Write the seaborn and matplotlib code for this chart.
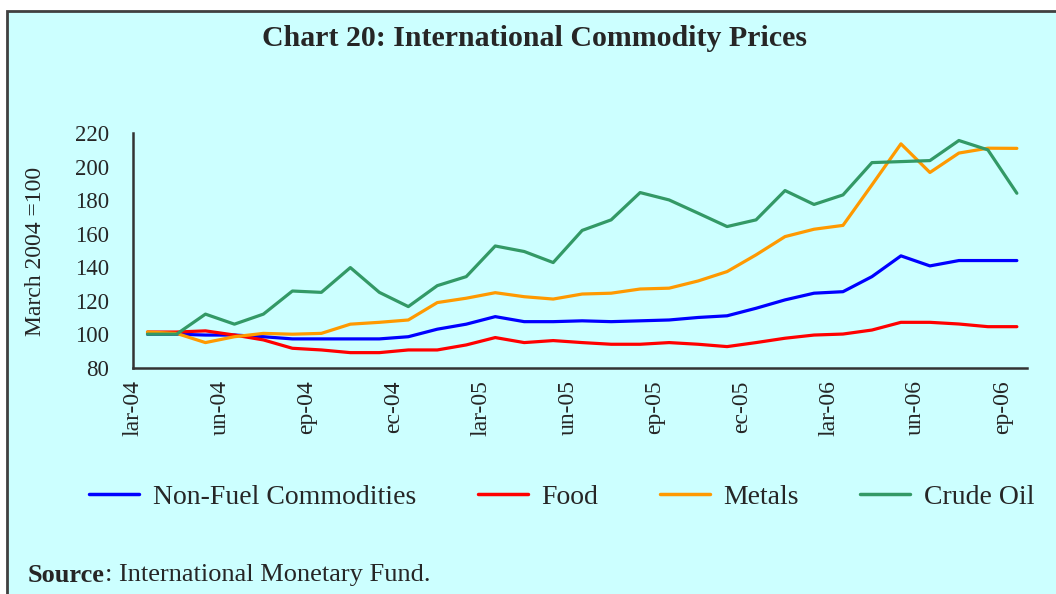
import pandas as pd
import seaborn as sns
import matplotlib.pyplot as plt
from matplotlib.patches import Rectangle

# monthly index values, March 2004 = 100 (Mar-04 .. Sep-06)
months = pd.date_range("2004-03-01", "2006-09-01", freq="MS")
non_fuel = [100, 100, 99.5, 99.5, 98.5, 97.2, 97.2, 97.2, 97.2, 98.5, 103, 106,
            110.5, 107.5, 107.5, 108, 107.5, 108, 108.5, 110, 111, 115.5, 120.5,
            124.5, 125.4, 134.4, 146.8, 140.8, 144, 144, 144]
food = [101.3, 101.3, 102, 99.5, 96.6, 91.6, 90.6, 89, 89, 90.6, 90.6, 93.6,
        98, 95, 96.2, 95, 94, 94, 95, 94, 92.6, 95, 97.6,
        99.5, 100.1, 102.5, 107.1, 107.1, 106.1, 104.5, 104.5]
metals = [101.3, 100.5, 95, 98.5, 100.5, 100, 100.5, 106, 107.1, 108.5, 118.9, 121.5,
          124.8, 122.4, 121, 124, 124.5, 127, 127.5, 131.8, 137.4, 147.4, 158.3,
          162.7, 165, 189.2, 213.7, 196.6, 208.2, 211.1, 211]
crude_oil = [100, 100, 112, 106, 112, 125.8, 125, 139.8, 125, 116.5, 129, 134.4,
             152.7, 149.4, 142.8, 162, 168.3, 184.6, 180.2, 172.3, 164.3, 168.3, 185.8,
             177.5, 183.2, 202.5, 203.1, 203.7, 215.7, 210.1, 184.2]

series_names = ["Non-Fuel Commodities", "Food", "Metals", "Crude Oil"]
tick_labels = ["lar-04", "un-04", "ep-04", "ec-04", "lar-05", "un-05",
               "ep-05", "ec-05", "lar-06", "un-06", "ep-06"]
colors = ["#0000ff", "#ff0000", "#ff9900", "#339966"]

# long-form table for seaborn; points sit in the middle of each month slot
rows = []
for name, vals in zip(series_names, [non_fuel, food, metals, crude_oil]):
    for i, v in enumerate(vals):
        rows.append({"pos": i + 0.5, "value": v, "series": name})
df = pd.DataFrame(rows)

sns.set_style("white")
plt.rcParams["font.family"] = ["Liberation Serif", "DejaVu Serif"]

bg = "#ccffff"
fig = plt.figure(figsize=(10.56, 5.94), dpi=100, facecolor="white")
fig.patches.append(Rectangle((7 / 1056, -0.02), 1.05, (594 - 11) / 594 + 0.02,
                             transform=fig.transFigure, facecolor=bg,
                             edgecolor="#404040", linewidth=2, zorder=-10))

ax = fig.add_axes([133 / 1056, (594 - 367.7) / 594, (1027 - 133) / 1056, 234.4 / 594])
ax.set_facecolor("none")

sns.lineplot(data=df, x="pos", y="value", hue="series", hue_order=series_names,
             palette=colors, linewidth=2.3, ax=ax, legend=False)

ax.set_xlim(0, 30.85)
ax.set_ylim(80, 220)
ax.set_yticks(range(80, 221, 20))
ax.set_xticks(range(0, 31, 3))
ax.set_xticklabels(tick_labels, rotation=90, fontsize=17)
ax.tick_params(axis="y", labelsize=16.5, length=6, width=1.5, color="#333333", pad=11, direction="out")
ax.tick_params(axis="x", length=6, width=1.5, color="#333333", pad=3, direction="out")
for side in ["top", "right"]:
    ax.spines[side].set_visible(False)
for side in ["left", "bottom"]:
    ax.spines[side].set_color("#333333")
    ax.spines[side].set_linewidth(1.8)
ax.set_xlabel("")
ax.set_ylabel("March 2004 =100", fontsize=17)
ax.yaxis.set_label_coords((46 - 133) / 894, 0.494)

fig.text(535 / 1056, 1 - 38 / 594, "Chart 20: International Commodity Prices",
         ha="center", va="center", fontsize=21.5, fontweight="bold")

handles = [plt.Line2D([], [], color=c, linewidth=2.5) for c in colors]
fig.legend(handles, series_names, loc="center", ncol=4, frameon=False,
           bbox_to_anchor=(562 / 1056, 1 - 497 / 594), fontsize=20,
           handlelength=1.8, handletextpad=0.5, columnspacing=2.2)

src = fig.text(28 / 1056, 1 - 575 / 594, "Source", ha="left", va="center",
               fontsize=19, fontweight="bold")
fig.canvas.draw()
bb = src.get_window_extent(renderer=fig.canvas.get_renderer())
fig.text(bb.x1 / fig.bbox.width, 1 - 575 / 594, ": International Monetary Fund.",
         ha="left", va="center", fontsize=19)

fig.savefig("out.png", dpi=100, facecolor="white")
